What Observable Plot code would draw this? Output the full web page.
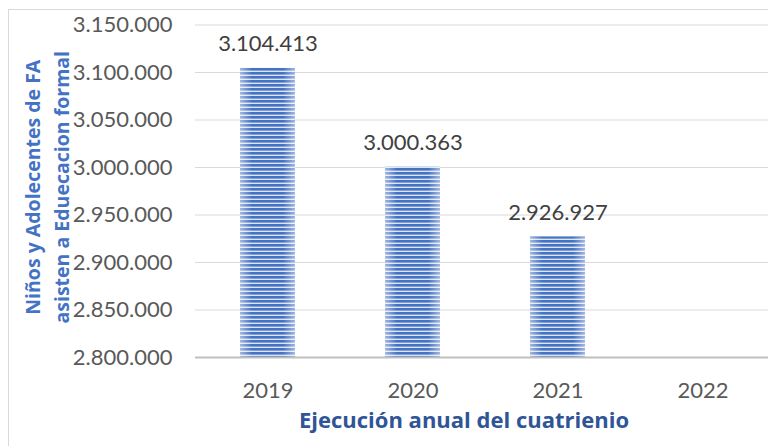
<!DOCTYPE html>
<html>
<head>
<meta charset="utf-8">
<script src="https://cdn.jsdelivr.net/npm/d3@7"></script>
<script src="https://cdn.jsdelivr.net/npm/@observablehq/plot@0.6"></script>
<style>
  html, body { margin: 0; padding: 0; background: #fff; }
  #wrap { position: relative; width: 768px; height: 446px; overflow: hidden; }
  #border { position: absolute; left: 8px; top: 9px; width: 800px; height: 480px; border: 1.5px solid #D9D9D9; pointer-events: none; box-sizing: border-box; }
  #chart svg { display: block; }
</style>
</head>
<body>
<div id="wrap"><div id="chart"></div><div id="border"></div></div>
<script>
const years = ["2019", "2020", "2021", "2022"];
const values = [3104413, 3000363, 2926927, null];
const yTicks = [2800000, 2850000, 2900000, 2950000, 3000000, 3050000, 3100000, 3150000];
const yTitle = "Niños y Adolecentes de FA\nasisten a Eduecacion formal";
const xTitle = "Ejecución anual del cuatrienio";

const fmt = d3.formatLocale({decimal: ",", thousands: ".", grouping: [3], currency: ["$", ""]}).format(",d");
const rows = years.map((year, i) => ({year, value: values[i]}));
const bars = rows.filter(d => d.value != null);
const yMin = yTicks[0], yMax = yTicks[yTicks.length - 1];

const plot = Plot.plot({
  width: 768,
  height: 446,
  marginLeft: 195,
  marginRight: 0,
  marginTop: 24.5,
  marginBottom: 89,
  style: {fontFamily: "Lato, sans-serif", fontSize: "22px", color: "#595959", background: "transparent"},
  x: {domain: years, range: [195, 775], paddingInner: 0.62, paddingOuter: 0.31, label: null},
  y: {domain: [yMin, yMax], label: null},
  marks: [
    Plot.ruleY(yTicks.slice(1), {stroke: "#D9D9D9", strokeWidth: 1.2}),
    Plot.barY(bars, {x: "year", y1: () => yMin, y2: "value", fill: "url(#stripes)"}),
    Plot.barY(bars, {x: "year", y1: () => yMin, y2: "value", fill: "url(#edge)"}),
    Plot.ruleY([yMin], {stroke: "#BFBFBF", strokeWidth: 2.2}),
    Plot.axisY(yTicks, {tickSize: 0, tickPadding: 23, tickFormat: fmt, fill: "#595959", fontSize: 22, label: null}),
    Plot.axisX({tickSize: 0, tickPadding: 25, fill: "#595959", fontSize: 22, label: null}),
    Plot.text(bars, {x: "year", y: "value", text: d => fmt(d.value), lineAnchor: "bottom", dy: -17, fill: "#404040", fontSize: 22}),
    Plot.text([yTitle], {frameAnchor: "left", rotate: -90, dx: -150, dy: -4, text: d => d, fill: "#4472C4", fontFamily: "Open Sans, sans-serif", fontWeight: "bold", fontSize: 19.5, lineHeight: 1.5, textAnchor: "middle"}),
    Plot.text([xTitle], {frameAnchor: "bottom", lineAnchor: "top", dy: 55, dx: -18, text: d => d, fill: "#2F5597", fontFamily: "Open Sans, sans-serif", fontWeight: "bold", fontSize: 22})
  ]
});

const ns = "http://www.w3.org/2000/svg";
const defs = document.createElementNS(ns, "defs");
defs.innerHTML = `
<pattern id="stripes" patternUnits="userSpaceOnUse" width="8" height="4">
  <rect width="8" height="4" fill="#DDE5F4"/>
  <rect width="8" height="2.6" fill="#4472C4"/>
</pattern>
<linearGradient id="edge" x1="0" x2="1" y1="0" y2="0">
  <stop offset="0" stop-color="#fff" stop-opacity="0.5"/>
  <stop offset="0.22" stop-color="#fff" stop-opacity="0"/>
  <stop offset="0.78" stop-color="#fff" stop-opacity="0"/>
  <stop offset="1" stop-color="#fff" stop-opacity="0.5"/>
</linearGradient>`;
plot.insertBefore(defs, plot.firstChild);
document.getElementById("chart").appendChild(plot);
</script>
</body>
</html>
